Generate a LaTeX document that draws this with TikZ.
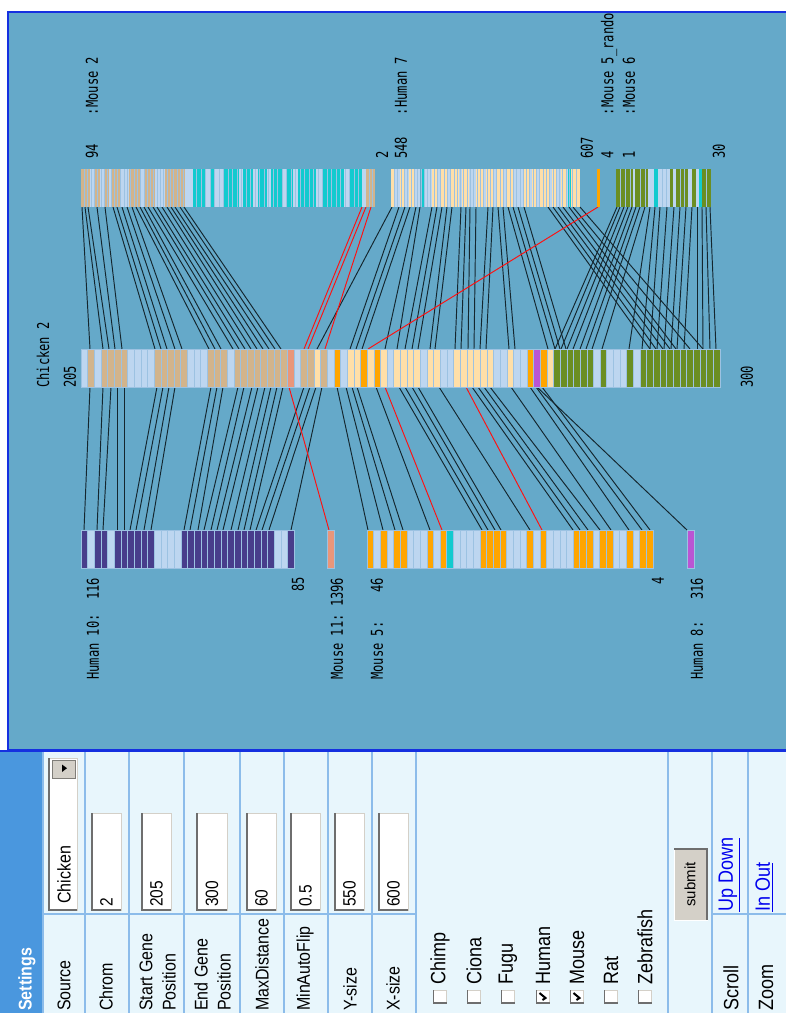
\documentclass[tikz,border=0pt]{standalone}
\usepackage{fontspec}
\setmainfont{Liberation Sans}
\newfontfamily\monof{DejaVu Sans Mono}
\definecolor{panelbg}{HTML}{65A9C9}
\definecolor{bordblue}{HTML}{1530E0}
\definecolor{setbg}{HTML}{E8F6FC}
\definecolor{gridc}{HTML}{8CBCEA}
\definecolor{headc}{HTML}{4A97DE}
\definecolor{cb}{HTML}{BDD6F0}
\definecolor{ct}{HTML}{D2B48C}
\definecolor{cy}{HTML}{FFDFA8}
\definecolor{co}{HTML}{FFA500}
\definecolor{cs}{HTML}{E9967A}
\definecolor{cp}{HTML}{BA55D3}
\definecolor{cg}{HTML}{6B8E23}
\definecolor{cc}{HTML}{12CACF}
\definecolor{cd}{HTML}{483D8B}
\definecolor{sep}{HTML}{9CC2E2}
\definecolor{linec}{HTML}{14262E}
\definecolor{redc}{HTML}{FF1010}
\definecolor{btn}{HTML}{D4D0C8}
\definecolor{linkc}{HTML}{0000EE}
\definecolor{sunk}{HTML}{6E6E6E}
\tikzset{
  conn/.style={linec, line width=0.95},
  redconn/.style={redc, line width=0.95},
  stripe/.style={draw=sep, line width=0.7},
  texture/.style={sep, line width=0.35},
  lab/.style={rotate=90, anchor=west, inner sep=0, yscale=1.35, font=\monof\fontsize{12.1}{14}\selectfont},
  slab/.style={rotate=90, anchor=west, inner sep=0, yscale=1.15, font=\fontsize{16}{18}\selectfont},
  clab/.style={rotate=90, anchor=west, inner sep=0, yscale=1.15, font=\fontsize{18}{20}\selectfont},
  inbox/.style={fill=white, draw=btn, line width=1},
  sunkedge/.style={sunk, line width=2}
}
\begin{document}
\begin{tikzpicture}[x=1pt,y=-1pt]
\useasboundingbox (0,0) rectangle (786,1013);
\fill[white] (0,0) rectangle (786,1013);
% ---------------- diagram panel
\fill[panelbg] (8,12) rectangle (786,750);

% connectors top -> middle
\foreach \a/\b in {82/90, 85/103, 88/109, 97/115, 105/122,
  113/155, 117/161, 122/167, 127/175, 132/182,
  136/209, 140/215, 144/221, 148/233, 153/239, 157/245, 162/251, 167/257, 171/263, 175/269, 180/275, 184/281,
  392/317,
  399/350, 405/356, 410/362, 416/385, 420/397,
  432/405, 437/412, 442/418, 447/430, 452/435,
  461/455, 466/461, 470/468, 476/474,
  488/480, 493/486, 498/509, 503/515,
  508/548, 513/555, 518/560, 524/566,
  548/650, 553/656, 558/663, 563/670, 569/676, 573/690, 580/703,
  617/555, 620/561, 624/567, 628/573, 632/580, 636/586, 640/592, 645/602,
  650/629, 655/642, 660/650, 667/657, 674/664, 680/671, 686/677, 692/684, 697/697, 702/703, 706/710, 710/716}
  \draw[conn] (\a,207) -- (\b,349);
\foreach \a/\b in {362/304, 366/308, 371/325, 598/368}
  \draw[redconn] (\a,207) -- (\b,349);

% connectors middle -> bottom
\foreach \a/\b in {90/84, 103/97, 111/103, 117/117, 124/124,
  157/130, 163/136, 169/144, 175/151,
  211/184, 217/190, 223/198, 238/204, 244/211, 252/217, 258/223, 265/231, 271/238, 277/244, 283/250,
  304/256, 310/262, 316/269, 322/291,
  337/368, 346/383, 352/395, 357/403, 376/430,
  399/482, 405/488, 412/495, 418/501,
  439/530,
  472/573, 478/580, 484/588, 490/600,
  511/611, 530/629, 536/642, 542/650,
  537/687}
  \draw[conn] (\a,387) -- (\b,530);
\foreach \a/\b in {289/329, 385/442, 466/542}
  \draw[redconn] (\a,387) -- (\b,530);

% ---------------- top row segments
\foreach \p/\q/\k in {81/90/t, 90/95/b, 95/100/t, 100/104/b, 104/109/t, 109/112/b, 112/121/t, 121/129/b, 129/141/t, 141/144/b, 144/155/t, 155/165/b, 165/185/t, 185/193/b, 193/205/c, 205/210/b, 210/214/c, 214/224/b, 224/239/c, 239/243/b, 243/253/c, 253/258/b, 258/267/c, 267/271/b, 271/283/c, 283/286/b, 286/293/c, 293/298/b, 298/316/c, 316/322/b, 322/344/c, 344/349/b, 349/362/c, 362/366/b, 366/375/t}
  \fill[c\k] (\p,169) rectangle (\q,207);
\foreach \x in {84.3,87.6,...,186} \draw[texture] (\x,169) -- (\x,207);
\foreach \x in {196.5,201,...,362} \draw[texture] (\x,169) -- (\x,207);
\foreach \x in {369.3,372.6} \draw[texture] (\x,169) -- (\x,207);
\foreach \p/\q/\k in {391/395/y, 395/400/b, 400/405/y, 405/409/b, 409/415/y, 415/420/b, 421/424/c, 424/432/b, 432/437/y, 437/440/b, 440/447/y, 447/450/b, 450/459/y, 459/462/b, 462/469/y, 469/476/b, 476/483/y, 483/486/b, 486/493/y, 493/496/b, 496/503/y, 503/506/b, 506/513/y, 513/523/b, 523/529/y, 529/532/b, 532/537/y, 537/540/b, 540/549/y, 549/552/b, 552/557/y, 557/561/b, 561/566/y, 566/568/b, 568/571/c, 571/580/y}
  \fill[c\k] (\p,169) rectangle (\q,207);
\foreach \x in {394.3,397.6,...,578} \draw[texture] (\x,169) -- (\x,207);
\fill[co] (597,169) rectangle (600,207);
\foreach \p/\q/\k in {616/633/g, 633/635/b, 635/648/g, 648/654/b, 654/658/c, 658/670/b, 670/673/g, 673/676/b, 676/688/g, 688/692/b, 692/696/g, 696/699/b, 699/702/c, 702/711/g}
  \fill[c\k] (\p,169) rectangle (\q,207);
\foreach \x in {620,625,630,640,645,662,666,680,684,706} \draw[texture] (\x,169) -- (\x,207);

% ---------------- middle row (Chicken 2)
\foreach \k [count=\i] in {b,t,b,t,t,t,t,b,b,b,b,t,t,t,t,t,b,b,b,t,t,t,b,t,t,t,t,t,t,t,t,s,b,t,t,y,t,b,o,b,y,y,o,y,o,y,b,y,y,y,y,b,y,y,b,b,y,y,y,y,y,y,b,b,y,b,b,o,p,o,y,g,g,g,g,g,g,b,g,b,b,b,g,b,g,g,g,g,g,g,g,g,g,g,g,g}
  \filldraw[fill=c\k, stripe] ({81+(\i-1)*6.656},349) rectangle ({81+\i*6.656},387);

% ---------------- bottom row
\foreach \k [count=\i] in {d,b,d,d,b,d,d,d,d,d,d,b,b,b,b,d,d,d,d,d,d,d,d,d,d,d,d,d,d,b,b,d}
  \filldraw[fill=c\k, stripe] ({81+(\i-1)*6.67},530) rectangle ({81+\i*6.67},568);
\filldraw[fill=cs, stripe] (327,530) rectangle (334,568);
\foreach \k [count=\i] in {o,b,o,b,o,o,b,b,b,o,b,o,c,b,b,b,b,o,o,o,o,b,b,b,o,b,o,b,b,b,b,o,o,o,b,o,o,b,b,o,b,o,o}
  \filldraw[fill=c\k, stripe] ({367+(\i-1)*6.65},530) rectangle ({367+\i*6.65},568);
\filldraw[fill=cp, stripe] (687,530) rectangle (694,568);

% ---------------- labels
\begin{scope}
\clip (8,12) rectangle (786,750);
\node[lab] (tm2) at (92,159) {94\ \ \ \ :Mouse 2};
\node[lab] (tm2e) at (382,159) {2};
\node[lab] (th7) at (401,159) {548\ \ \ :Human 7};
\node[lab] (th7e) at (587,159) {607};
\node[lab] (tm5r) at (609,159) {4\ \ \ \ \ :Mouse 5\_random};
\node[lab] (tm6) at (629,159) {1\ \ \ \ \ :Mouse 6};
\node[lab] (tm6e) at (719,159) {30};
\node[lab] (chk) at (43,388) {Chicken 2};
\node[lab] (chs) at (70,388) {205};
\node[lab] (che) at (747,388) {300};
\node[lab] (bh10) at (93,680) {Human 10:\ \ 116};
\node[lab] (bh10e) at (298,592) {85};
\node[lab] (bm11) at (337,680) {Mouse 11:\ 1396};
\node[lab] (bm5) at (377,680) {Mouse 5:\ \ \ \ 46};
\node[lab] (bm5e) at (658,585) {4};
\node[lab] (bh8) at (697,680) {Human 8:\ \ \ 316};
\end{scope}
\draw[bordblue, line width=2] (8,750) -- (8,12) -- (786,12);
\draw[bordblue, line width=2] (8,750) -- (786,750);

% ---------------- settings panel
\fill[setbg] (0,751) rectangle (786,1013);
\fill[headc] (0,751) rectangle (43,1013);
\draw[bordblue, line width=2] (0,751) -- (786,751);
\foreach \x in {43,85,129,184,240,284,328,372,416,668,712,748}
  \draw[gridc, line width=1.2] (\x,752) -- (\x,1013);
\draw[gridc, line width=1.2] (43,914) -- (416,914);
\draw[gridc, line width=1.2] (712,914) -- (786,914);

\node[rotate=90, anchor=west, inner sep=0, yscale=1.15, text=white, font=\bfseries\fontsize{16}{18}\selectfont] (settings) at (27,1011) {Settings};
\node[slab] (lsource) at (64,1011) {Source};
\node[slab] (lchrom) at (106,1011) {Chrom};
\node[slab] (lstart1) at (146,1011) {Start Gene};
\node[slab] (lstart2) at (169,1011) {Position};
\node[slab] (lend1) at (201,1011) {End Gene};
\node[slab] (lend2) at (224,1011) {Position};
\node[slab] (lmax) at (262,1011) {MaxDistance};
\node[slab] (lmin) at (305,1011) {MinAutoFlip};
\node[slab] (lys) at (350,1011) {Y-size};
\node[slab] (lxs) at (393,1011) {X-size};

% source dropdown
\filldraw[inbox] (49,758) rectangle (77,910);
\draw[sunkedge] (49,758) -- (49,910) -- (77,910);
\filldraw[fill=btn, draw=btn!60!black, line width=0.8] (52,760) rectangle (75,778);
\fill[black] (62,764.5) -- (62,772) -- (67,768.2) -- cycle;
\node[slab, yscale=1] (vsource) at (64,904) {Chicken};
% text inputs
\foreach \xa/\xb/\v/\nm in {92/121/2/chrom, 142/171/205/start, 197/227/300/end, 247/276/60/maxd, 291/320/0.5/mina, 335/364/550/ysz, 379/408/600/xsz}{
  \filldraw[inbox] (\xa,813) rectangle (\xb,910);
  \draw[sunkedge] (\xa,813) -- (\xa,910) -- (\xb,910);
  \node[slab, yscale=1, font=\fontsize{15.5}{17}\selectfont] (v\nm) at ({(\xa+\xb)/2},907) {\v};
}

% checkboxes
\foreach \cx/\nm in {440/Chimp, 474/Ciona, 508/Fugu, 543/Human, 577/Mouse, 611/Rat, 645/Zebrafish}{
  \filldraw[fill=white, draw=btn, line width=1] (\cx-6.5,990) rectangle (\cx+6.5,1003);
  \draw[sunk, line width=1.6] (\cx-6.5,990) -- (\cx-6.5,1003) -- (\cx+6.5,1003);
  \node[clab] (c\nm) at (\cx,985) {\nm};
}
\draw[black, line width=2] (536.5+6,1000) -- (536.5+9,998) -- (536.5+3,993);
\draw[black, line width=2] (570.5+6,1000) -- (570.5+9,998) -- (570.5+3,993);

% submit button
\filldraw[fill=btn, draw=white, line width=1] (674,849) rectangle (707,920);
\draw[sunk, line width=1.5] (674,849) -- (707,849) -- (707,920);
\node[rotate=90, inner sep=0, font=\fontsize{15}{17}\selectfont] (submit) at (690,884.5) {submit};

% scroll / zoom
\node[clab] (lscroll) at (731,1011) {Scroll};
\node[clab] (lzoom) at (766,1011) {Zoom};
\node[clab, text=linkc] (lupdown) at (729,912) {\underline{Up Down}};
\node[clab, text=linkc] (linout) at (764,912) {\underline{In Out}};
\end{tikzpicture}
\end{document}
